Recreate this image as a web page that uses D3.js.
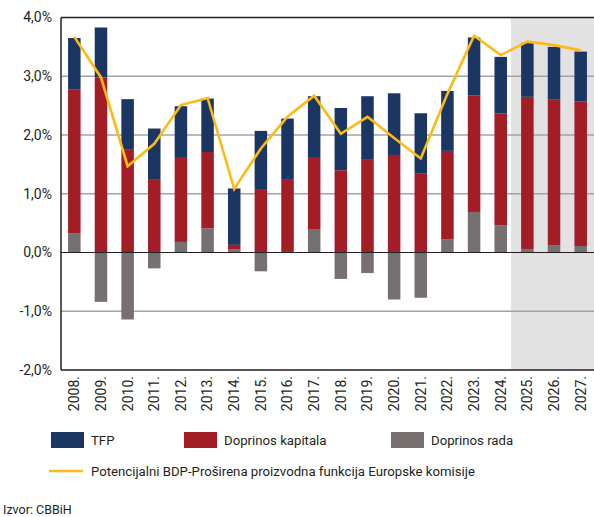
<!DOCTYPE html>
<html>
<head>
<meta charset="utf-8">
<script src="https://cdn.jsdelivr.net/npm/d3@7"></script>
<style>
  body { margin: 0; background: #fff; }
  text { font-family: "Myriad Pro", Roboto, sans-serif; fill: #231f20; }
</style>
</head>
<body>
<div id="graph1"></div>
<script>
// years on the x axis
var years = ["2008.", "2009.", "2010.", "2011.", "2012.", "2013.", "2014.", "2015.", "2016.", "2017.",
             "2018.", "2019.", "2020.", "2021.", "2022.", "2023.", "2024.", "2025.", "2026.", "2027."];
// contributions in percentage points
var rada    = [0.33, -0.84, -1.14, -0.27, 0.18, 0.41, 0.05, -0.32, 0.01, 0.40,
               -0.45, -0.35, -0.80, -0.77, 0.22, 0.69, 0.46, 0.06, 0.12, 0.11];
var kapital = [2.45, 2.98, 1.76, 1.25, 1.43, 1.30, 0.08, 1.08, 1.24, 1.21,
               1.40, 1.59, 1.66, 1.34, 1.51, 1.98, 1.91, 2.59, 2.49, 2.46];
var tfp     = [0.87, 0.85, 0.85, 0.86, 0.88, 0.91, 0.96, 0.99, 1.03, 1.05,
               1.06, 1.07, 1.05, 1.03, 1.02, 0.99, 0.96, 0.92, 0.89, 0.85];
// potential GDP line
var potBDP  = [3.67, 2.98, 1.47, 1.85, 2.51, 2.63, 1.08, 1.77, 2.31, 2.67,
               2.02, 2.31, 1.95, 1.60, 2.70, 3.69, 3.36, 3.59, 3.53, 3.44];
var yTicks = [-2, -1, 0, 1, 2, 3, 4];
var forecastFrom = "2025.";

var keys = ["rada", "kapital", "tfp"];
var colors = {tfp: "#1c3663", kapital: "#a21d25", rada: "#767170"};
var lineColor = "#fdbb12";

var data = years.map(function(y, i) {
  return {year: y, rada: rada[i], kapital: kapital[i], tfp: tfp[i], bdp: potBDP[i]};
});

var margin = {top: 17.5, right: 0, bottom: 147, left: 61},
    W = 594, H = 517,
    width = W - margin.left - margin.right,
    height = H - margin.top - margin.bottom;

var svg = d3.select("#graph1").append("svg")
    .attr("width", W)
    .attr("height", H)
  .append("g")
    .attr("transform", "translate(" + margin.left + "," + margin.top + ")");

var x = d3.scaleBand()
    .domain(years)
    .range([0, width])
    .paddingInner(0.53)
    .paddingOuter(0.265);

var y = d3.scaleLinear()
    .domain([-2, 4])
    .range([height, 0]);

// forecast shading
var fx = x(forecastFrom) - (x.step() - x.bandwidth()) / 2 - 3;
svg.append("rect")
    .attr("x", fx)
    .attr("y", 0)
    .attr("width", width - fx)
    .attr("height", height)
    .attr("fill", "#e2e2e2");

// grid
svg.append("g")
  .selectAll("line")
  .data(yTicks.filter(function(d) { return d != 0 && d != 4 && d != -2; }))
  .enter().append("line")
    .attr("x1", 0)
    .attr("x2", width)
    .attr("y1", function(d) { return y(d); })
    .attr("y2", function(d) { return y(d); })
    .attr("stroke", "#a3a3a3")
    .attr("stroke-width", 1.3);

// stacked bars
var series = d3.stack().keys(keys).offset(d3.stackOffsetDiverging)(data);

svg.append("g")
  .selectAll("g")
  .data(series)
  .enter().append("g")
    .attr("fill", function(d) { return colors[d.key]; })
  .selectAll("rect")
  .data(function(d) { return d; })
  .enter().append("rect")
    .attr("x", function(d) { return x(d.data.year); })
    .attr("y", function(d) { return y(Math.max(d[0], d[1])); })
    .attr("width", x.bandwidth())
    .attr("height", function(d) { return Math.abs(y(d[0]) - y(d[1])); });

// frame lines
svg.append("line")
    .attr("x1", 0).attr("x2", width)
    .attr("y1", y(0)).attr("y2", y(0))
    .attr("stroke", "#231f20").attr("stroke-width", 1.2);
svg.append("line")
    .attr("x1", 0).attr("x2", width)
    .attr("y1", y(4)).attr("y2", y(4))
    .attr("stroke", "#231f20").attr("stroke-width", 1.5);
svg.append("line")
    .attr("x1", 0).attr("x2", width)
    .attr("y1", y(-2)).attr("y2", y(-2))
    .attr("stroke", "#555").attr("stroke-width", 2);
svg.append("line")
    .attr("x1", 0).attr("x2", 0)
    .attr("y1", y(4)).attr("y2", y(-2))
    .attr("stroke", "#231f20").attr("stroke-width", 1.5);

// potential GDP line
var line = d3.line()
    .x(function(d) { return x(d.year) + x.bandwidth() / 2; })
    .y(function(d) { return y(d.bdp); });

svg.append("path")
    .datum(data)
    .attr("d", line)
    .attr("fill", "none")
    .attr("stroke", lineColor)
    .attr("stroke-width", 2.6)
    .attr("stroke-linejoin", "miter");

// y labels
svg.append("g")
  .selectAll("text")
  .data(yTicks)
  .enter().append("text")
    .attr("x", -9)
    .attr("y", function(d) { return y(d); })
    .attr("dy", "0.35em")
    .attr("text-anchor", "end")
    .style("font-size", "14px")
    .text(function(d) { return d3.format(".1f")(d).replace(".", ",").replace("−", "-") + "%"; });

// x labels
svg.append("g")
  .selectAll("text")
  .data(years)
  .enter().append("text")
    .attr("transform", function(d) {
      return "translate(" + (x(d) + x.bandwidth() / 2) + "," + (height + 6) + ") rotate(-90)";
    })
    .attr("dy", "0.35em")
    .attr("text-anchor", "end")
    .style("font-size", "14px")
    .text(function(d) { return d; });

// legend
var legend = d3.select("svg").append("g").classed("legend", true);
var legendItems = [
  {key: "tfp", label: "TFP", x: 51},
  {key: "kapital", label: "Doprinos kapitala", x: 184},
  {key: "rada", label: "Doprinos rada", x: 391}
];
legendItems.forEach(function(d) {
  legend.append("rect")
    .attr("x", d.x).attr("y", 432)
    .attr("width", 33).attr("height", 16)
    .attr("fill", colors[d.key]);
  legend.append("text")
    .attr("x", d.x + 40).attr("y", 440)
    .attr("dy", "0.35em")
    .style("font-size", "13.2px")
    .text(d.label);
});
legend.append("line")
  .attr("x1", 49).attr("x2", 83)
  .attr("y1", 471).attr("y2", 471)
  .attr("stroke", lineColor).attr("stroke-width", 2.6);
legend.append("text")
  .attr("x", 91).attr("y", 471)
  .attr("dy", "0.35em")
  .style("font-size", "13.2px")
  .text("Potencijalni BDP-Proširena proizvodna funkcija Europske komisije");

d3.select("svg").append("text")
  .attr("x", 3).attr("y", 510)
  .attr("dy", "0.35em")
  .style("font-size", "12.5px")
  .text("Izvor: CBBiH");
</script>
</body>
</html>
